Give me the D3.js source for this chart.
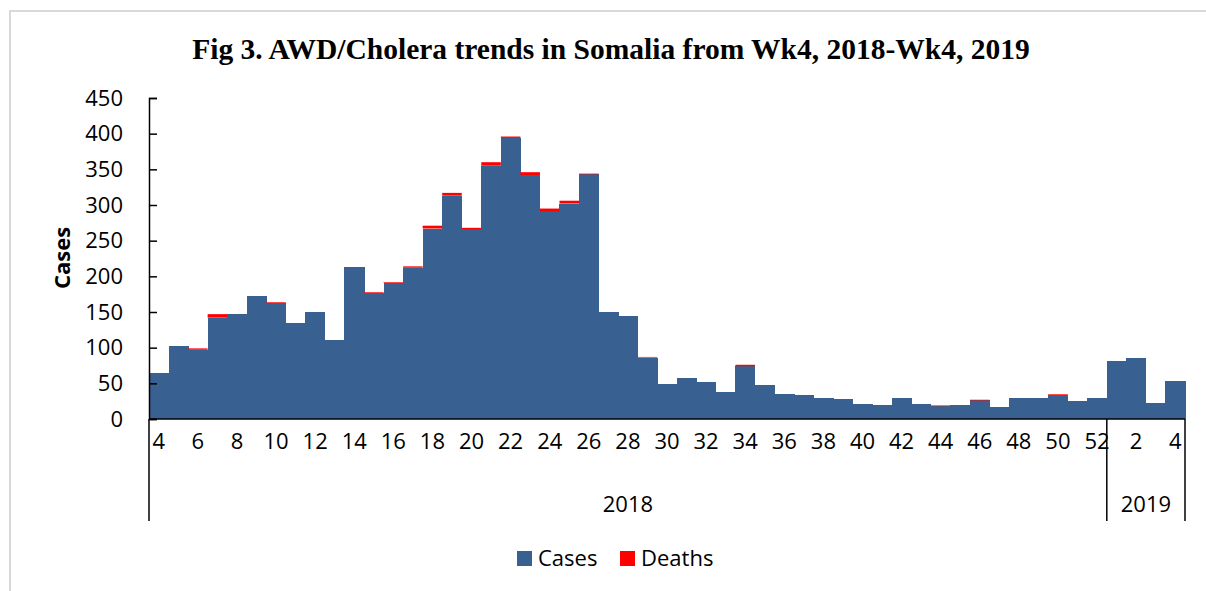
<!DOCTYPE html>
<html>
<head>
<meta charset="utf-8">
<title>AWD/Cholera trends in Somalia</title>
<script src="https://d3js.org/d3.v7.min.js"></script>
<style>
  body { margin: 0; background: #fff; }
  .tick text { font-family: "Open Sans", sans-serif; font-size: 22px; fill: #000; }
  .title { font-family: "Liberation Serif", "Times New Roman", serif; font-weight: bold; font-size: 29.5px; }
  .lbl { font-family: "Open Sans", sans-serif; font-size: 22px; }
</style>
</head>
<body>
<svg id="chart" width="1206" height="591"></svg>
<script>
// weeks 4..52 of 2018, then 1..4 of 2019
var weeks2018 = d3.range(4, 53);
var weeks2019 = [1, 2, 3, 4];
var years = ["2018", "2019"];

var cases = [65, 102, 97, 142, 147, 173, 163, 135, 150, 111,
             213, 177, 191, 212, 267, 313, 266, 355, 394, 342,
             291, 302, 343, 150, 144, 86, 49, 58, 52, 38,
             74, 48, 35, 33, 29, 28, 21, 19, 30, 21,
             18, 20, 26, 17, 30, 30, 34, 25, 29,
             81, 86, 23, 53];
var deaths = [0, 0, 2, 5, 0, 0, 1, 0, 0, 0,
              0, 1, 1, 2, 4, 4, 2, 5, 2, 4,
              4, 4, 1, 0, 0, 1, 0, 0, 0, 0,
              2, 0, 0, 0, 0, 0, 0, 0, 0, 0,
              1, 0, 1, 0, 0, 0, 1, 0, 0,
              0, 0, 0, 0];
var yTicks = [0, 50, 100, 150, 200, 250, 300, 350, 400, 450];

var rows = weeks2018.map(function (w) { return { year: "2018", week: w }; })
  .concat(weeks2019.map(function (w) { return { year: "2019", week: w }; }));
rows.forEach(function (d, i) { d.i = i; d.cases = cases[i]; d.deaths = deaths[i]; });

var svg = d3.select("#chart");

// outer frame
svg.append("path").attr("d", "M10,591V11H1206")
  .attr("fill", "none").attr("stroke", "#d9d9d9").attr("stroke-width", 2);

var x = d3.scaleBand().domain(rows.map(function (d) { return d.i; })).range([149, 1185]).padding(0);
var y = d3.scaleLinear().domain([0, 450]).range([419, 98]);

svg.append("text").attr("class", "title")
  .attr("x", 611).attr("y", 59).attr("text-anchor", "middle")
  .text("Fig 3. AWD/Cholera trends in Somalia from Wk4, 2018-Wk4, 2019");

// bars
var g = svg.append("g").attr("shape-rendering", "crispEdges");
g.selectAll("rect.cases").data(rows).enter().append("rect")
  .attr("class", "cases")
  .attr("x", function (d) { return x(d.i); })
  .attr("width", x.bandwidth() + 0.5)
  .attr("y", function (d) { return y(d.cases); })
  .attr("height", function (d) { return y(0) - y(d.cases); })
  .attr("fill", "#386192");
svg.append("g").selectAll("rect.deaths").data(rows.filter(function (d) { return d.deaths > 0; })).enter().append("rect")
  .attr("class", "deaths")
  .attr("x", function (d) { return x(d.i); })
  .attr("width", x.bandwidth())
  .attr("y", function (d) { return y(d.cases + d.deaths); })
  .attr("height", function (d) { return y(d.cases) - y(d.cases + d.deaths); })
  .attr("fill", "#ff0000");

// y axis, ticks inside
var yAxis = svg.append("g").attr("transform", "translate(149,0)")
  .call(d3.axisLeft(y).tickValues(yTicks).tickSizeInner(-8).tickSizeOuter(-8).tickPadding(26));
yAxis.selectAll("line, path").attr("stroke", "#000").attr("stroke-width", 1.5);

// x axis baseline
svg.append("line").attr("x1", 149).attr("x2", 1185).attr("y1", y(0)).attr("y2", y(0))
  .attr("stroke", "#000").attr("stroke-width", 1.5);

// week labels
var xAxis = svg.append("g").attr("transform", "translate(0," + y(0) + ")")
  .call(d3.axisBottom(x).tickSize(0).tickPadding(14)
    .tickValues(rows.filter(function (d) { return d.week % 2 === 0; }).map(function (d) { return d.i; }))
    .tickFormat(function (i) { return rows[i].week; }));
xAxis.select(".domain").remove();

// year group dividers and labels
var firstIdx = years.map(function (yr) { return rows.findIndex(function (d) { return d.year === yr; }); });
var edges = firstIdx.map(function (i) { return x(i); }).concat([x.range()[1]]);
svg.selectAll("line.sep").data(edges).enter().append("line")
  .attr("x1", function (d) { return d; }).attr("x2", function (d) { return d; })
  .attr("y1", y(0)).attr("y2", 521)
  .attr("stroke", "#000").attr("stroke-width", 1.5);
svg.selectAll("text.year").data(years).enter().append("text")
  .attr("class", "lbl")
  .attr("x", function (d, k) { return (edges[k] + edges[k + 1]) / 2; })
  .attr("y", 512).attr("text-anchor", "middle")
  .text(function (d) { return d; });

// y title
svg.append("text").attr("class", "lbl")
  .attr("transform", "translate(70,258) rotate(-90)")
  .attr("text-anchor", "middle").attr("font-weight", "bold")
  .text("Cases");

// legend
var legend = [{ name: "Cases", color: "#386192", x: 517 }, { name: "Deaths", color: "#ff0000", x: 620 }];
var lg = svg.selectAll("g.leg").data(legend).enter().append("g")
  .attr("transform", function (d) { return "translate(" + d.x + ",551)"; });
lg.append("rect").attr("width", 15).attr("height", 15).attr("fill", function (d) { return d.color; });
lg.append("text").attr("class", "lbl").attr("x", 21).attr("y", 15).text(function (d) { return d.name; });
</script>
</body>
</html>
